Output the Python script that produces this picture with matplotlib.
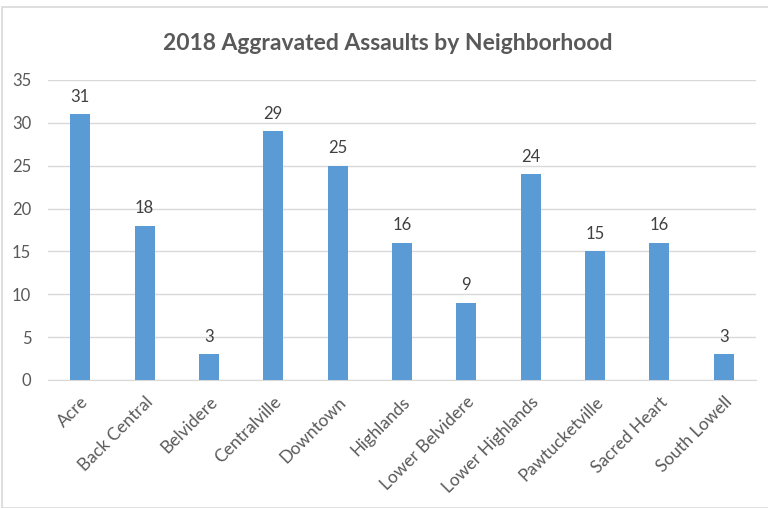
import matplotlib.pyplot as plt
from matplotlib.patches import Rectangle

neighborhoods = ['Acre', 'Back Central', 'Belvidere', 'Centralville', 'Downtown',
                 'Highlands', 'Lower Belvidere', 'Lower Highlands', 'Pawtucketville',
                 'Sacred Heart', 'South Lowell']
assaults = [31, 18, 3, 29, 25, 16, 9, 24, 15, 16, 3]
yticks = [0, 5, 10, 15, 20, 25, 30, 35]

plt.rcParams['font.family'] = ['Lato', 'DejaVu Sans']
txt = '#595959'

fig = plt.figure(figsize=(7.68, 5.08), dpi=100)
W, H = 768, 508
ax = fig.add_axes([48 / W, 1 - 380 / H, (756 - 48) / W, 300 / H])

x = range(len(neighborhoods))
bars = ax.bar(x, assaults, width=0.31, color='#5B9BD5', zorder=3)
for xi, v in zip(x, assaults):
    ax.text(xi, v + 1.1, str(v), ha='center', va='bottom', fontsize=12, color='#404040')

ax.set_xlim(-0.5, len(neighborhoods) - 0.5)
ax.set_ylim(0, 35)
ax.set_yticks(yticks)
ax.set_yticklabels([str(t) for t in yticks], fontsize=12, color=txt)
ax.grid(axis='y', color='#D9D9D9', linewidth=1, zorder=0)
ax.set_xticks(list(x))
ax.set_xticklabels(neighborhoods, rotation=45, ha='right', rotation_mode='anchor',
                   fontsize=12.5, color=txt)
ax.tick_params(length=0)
ax.tick_params(axis='x', pad=10)
ax.tick_params(axis='y', pad=12)
for s in ['top', 'right', 'left']:
    ax.spines[s].set_visible(False)
ax.spines['bottom'].set_color('#D9D9D9')

fig.text(388 / W, 1 - 43 / H, '2018 Aggravated Assaults by Neighborhood',
         ha='center', va='center', fontsize=16.5, fontweight='bold', color=txt)

fig.patches.append(Rectangle((1.5 / W, 0), 2, 1 - 7 / H, transform=fig.transFigure,
                             fill=False, edgecolor='#D9D9D9', linewidth=1.2))

fig.savefig('out.png', dpi=100)
